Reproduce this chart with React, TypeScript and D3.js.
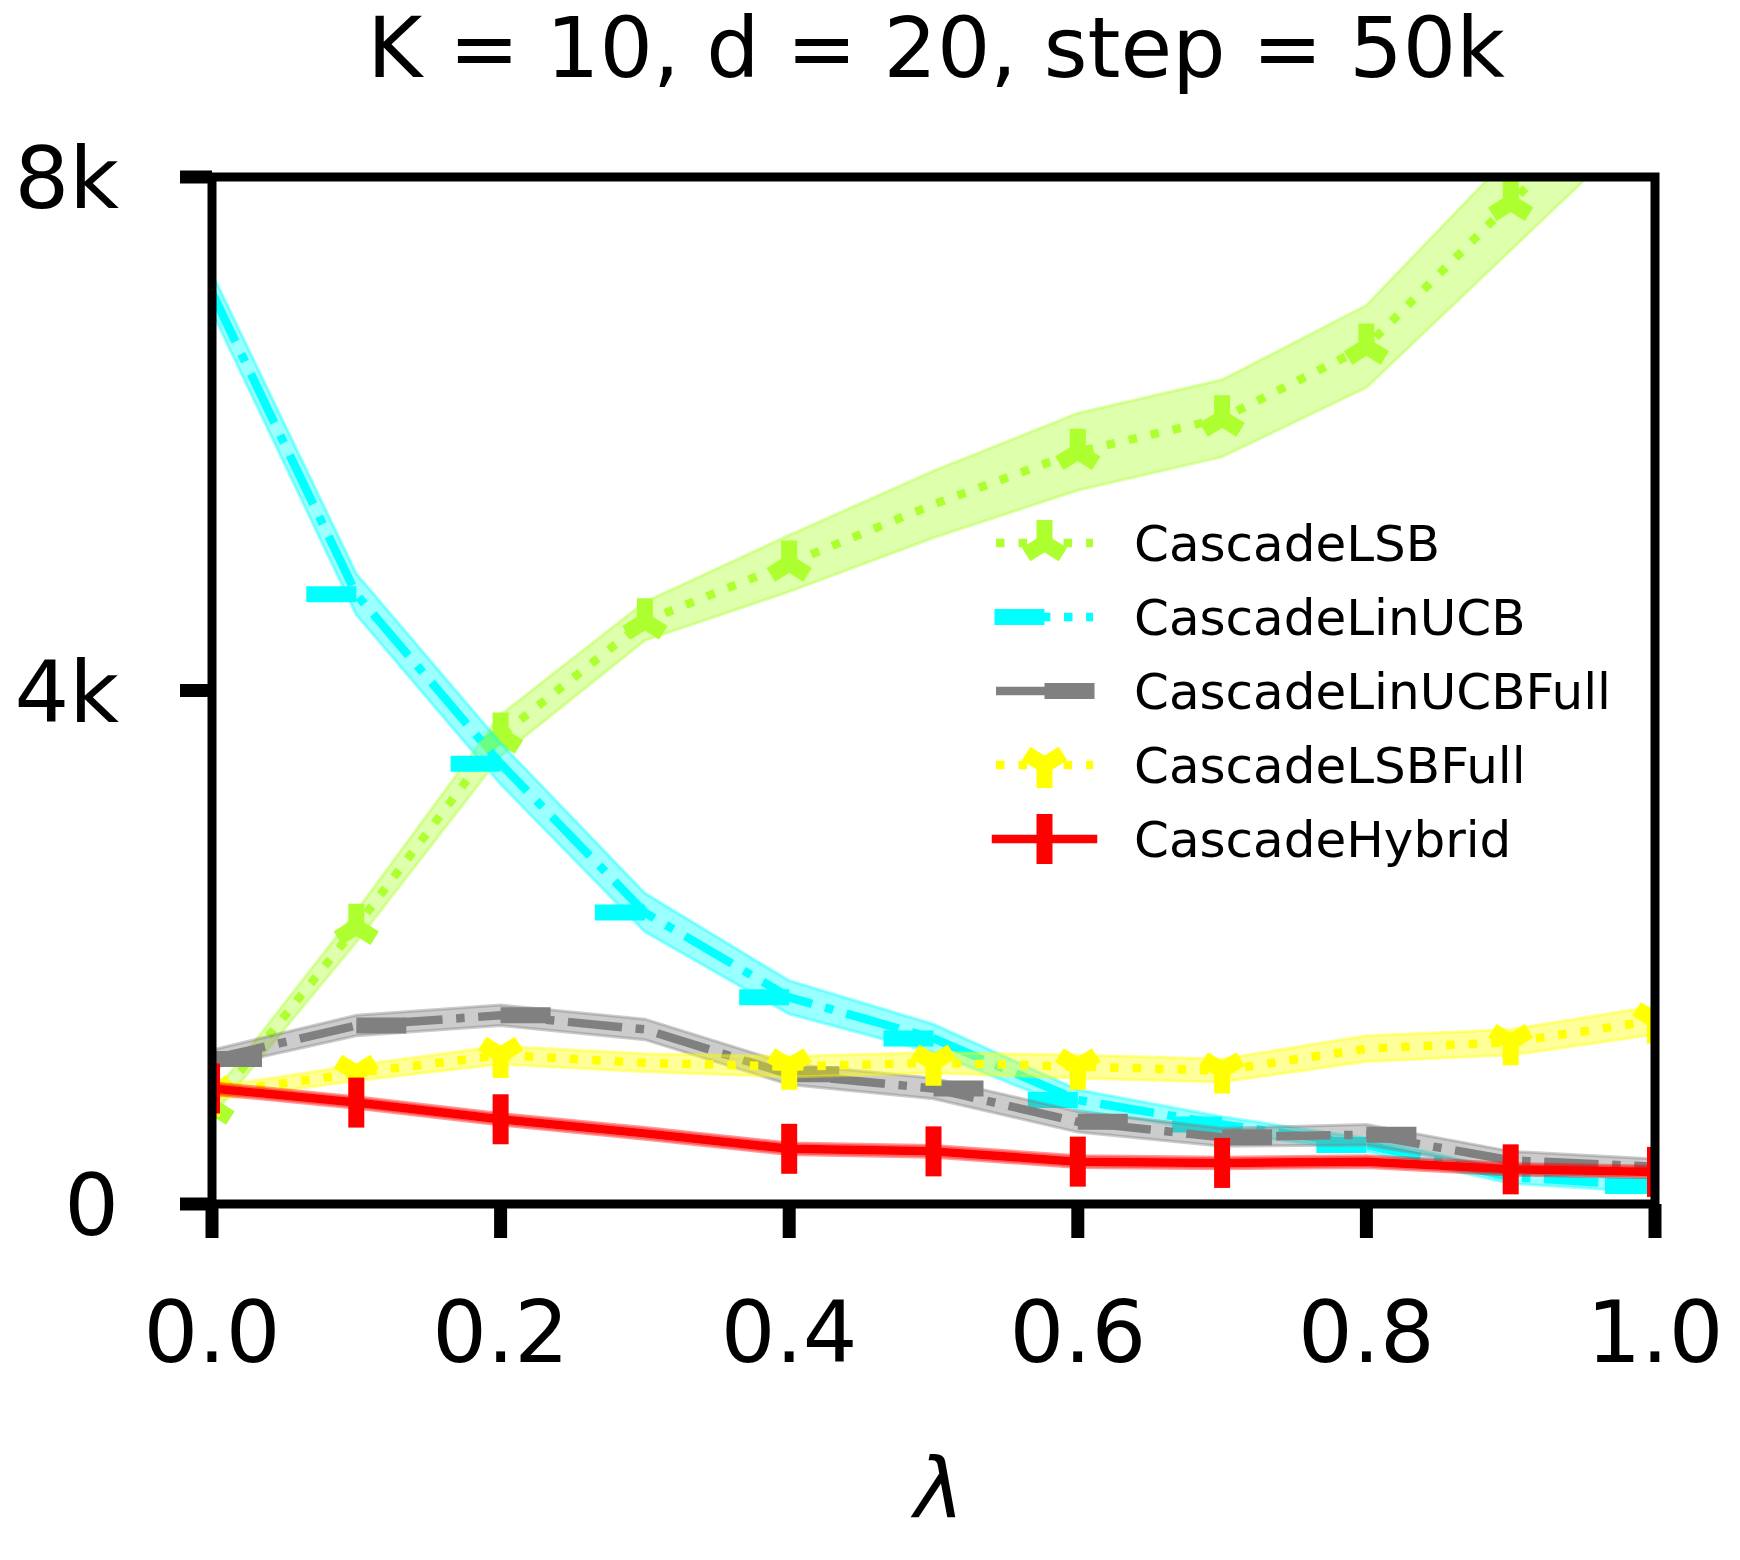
import React from 'react';
import * as d3 from 'd3';

// lambda values on the x axis
const LAMBDAS = [0, 0.1, 0.2, 0.3, 0.4, 0.5, 0.6, 0.7, 0.8, 0.9, 1.0];

// mean and std per algorithm
const LSB_MEAN = [760, 2160, 3650, 4540, 4990, 5450, 5860, 6120, 6680, 7800, 8900];
const LSB_STD = [80, 120, 160, 150, 220, 260, 300, 300, 320, 370, 400];
const LINUCB_MEAN = [7100, 4750, 3430, 2270, 1610, 1290, 810, 620, 460, 210, 140];
const LINUCB_STD = [150, 160, 160, 150, 130, 110, 80, 60, 50, 50, 50];
const LINUCBFULL_MEAN = [1130, 1390, 1470, 1360, 1010, 900, 640, 520, 540, 340, 290];
const LINUCBFULL_STD = [70, 80, 80, 80, 80, 80, 80, 70, 80, 70, 60];
const LSBFULL_MEAN = [860, 1020, 1160, 1100, 1070, 1100, 1070, 1040, 1210, 1260, 1430];
const LSBFULL_STD = [50, 60, 70, 70, 80, 80, 90, 90, 100, 100, 110];
const HYBRID_MEAN = [900, 790, 660, 550, 430, 410, 330, 320, 330, 270, 250];
const HYBRID_STD = [45, 45, 45, 45, 45, 45, 45, 45, 45, 45, 45];

// indices where a marker is drawn
const LSB_MARKS = [0, 1, 2, 3, 4, 6, 7, 8, 9, 10];
const LINUCB_MARKS = [0, 1, 2, 3, 4, 5, 6, 7, 8, 10];
const LINUCBFULL_MARKS = [0, 1, 2, 4, 5, 6, 7, 8];
const LSBFULL_MARKS = [0, 1, 2, 4, 5, 6, 7, 9, 10];
const HYBRID_MARKS = [0, 1, 2, 4, 5, 6, 7, 9, 10];

const NAMES = ['CascadeLSB', 'CascadeLinUCB', 'CascadeLinUCBFull', 'CascadeLSBFull', 'CascadeHybrid'];
const Y_TICKS = [0, 4000, 8000];
const X_TICKS = [0, 0.2, 0.4, 0.6, 0.8, 1.0];

type Marker = 'tri_up' | 'tri_down' | 'tickleft' | 'tickright' | 'vline';

const LW = 8.5;
const DOTTED = `${LW},${LW * 1.65}`;
const DASHDOT = `${LW * 6.4},${LW * 1.6},${LW},${LW * 1.6}`;

const series = [
  { name: NAMES[0], mean: LSB_MEAN, std: LSB_STD, marks: LSB_MARKS, color: '#adff2f', dash: DOTTED, marker: 'tri_up' as Marker },
  { name: NAMES[1], mean: LINUCB_MEAN, std: LINUCB_STD, marks: LINUCB_MARKS, color: '#00ffff', dash: DASHDOT, marker: 'tickleft' as Marker },
  { name: NAMES[2], mean: LINUCBFULL_MEAN, std: LINUCBFULL_STD, marks: LINUCBFULL_MARKS, color: '#808080', dash: DASHDOT, marker: 'tickright' as Marker },
  { name: NAMES[3], mean: LSBFULL_MEAN, std: LSBFULL_STD, marks: LSBFULL_MARKS, color: '#ffff00', dash: DOTTED, marker: 'tri_down' as Marker },
  { name: NAMES[4], mean: HYBRID_MEAN, std: HYBRID_STD, marks: HYBRID_MARKS, color: '#ff0000', dash: undefined, marker: 'vline' as Marker },
];

const W = 1740;
const H = 1560;
const left = 212;
const right = 1655;
const top = 177;
const bottom = 1204;
const FONT = '"DejaVu Sans", sans-serif';

const MarkerShape: React.FC<{ type: Marker; x: number; y: number; color: string }> = ({ type, x, y, color }) => {
  const ms = type === 'tri_up' || type === 'tri_down' ? 46 : 50;
  const h = ms / 2;
  let d = '';
  if (type === 'vline') d = `M${x},${y - h}L${x},${y + h}`;
  if (type === 'tickleft') d = `M${x - ms},${y}L${x},${y}`;
  if (type === 'tickright') d = `M${x},${y}L${x + ms},${y}`;
  if (type === 'tri_up') d = `M${x},${y}L${x},${y - h}M${x},${y}L${x + 0.8 * h},${y + 0.5 * h}M${x},${y}L${x - 0.8 * h},${y + 0.5 * h}`;
  if (type === 'tri_down') d = `M${x},${y}L${x},${y + h}M${x},${y}L${x + 0.8 * h},${y - 0.5 * h}M${x},${y}L${x - 0.8 * h},${y - 0.5 * h}`;
  return <path d={d} stroke={color} strokeWidth={16} fill="none" strokeLinecap="butt" strokeLinejoin="miter" />;
};

export default function App() {
  const x = d3.scaleLinear().domain([0, 1]).range([left, right]);
  const y = d3.scaleLinear().domain([0, 8000]).range([bottom, top]);

  const line = d3
    .line<number>()
    .x((_, i) => x(LAMBDAS[i]))
    .y(d => y(d));

  const area = (mean: number[], std: number[]) =>
    d3
      .area<number>()
      .x((_, i) => x(LAMBDAS[i]))
      .y0((d, i) => y(d - std[i]))
      .y1((d, i) => y(d + std[i]))(mean) || '';

  const fmtY = (v: number) => (v === 0 ? '0' : `${v / 1000}k`);

  const legX0 = 996;
  const legX1 = 1093;
  const legMid = (legX0 + legX1) / 2;
  const legY0 = 543;
  const legStep = 74;

  return (
    <div style={{ position: 'absolute', left: 0, top: 0, background: '#fff' }}>
      <svg width={W} height={H} style={{ display: 'block' }}>
        <rect width={W} height={H} fill="#fff" />
        <defs>
          <clipPath id="plot-clip">
            <rect x={left} y={top} width={right - left} height={bottom - top} />
          </clipPath>
        </defs>

        {/* title */}
        <text x={936} y={77} textAnchor="middle" fontFamily={FONT} fontSize={84} fill="#000">
          K = 10, d = 20, step = 50k
        </text>

        {/* series: band, line, markers */}
        <g clipPath="url(#plot-clip)">
          {series.map(s => (
            <g key={s.name}>
              <path
                d={area(s.mean, s.std)}
                fill={s.color}
                fillOpacity={0.4}
                stroke={s.color}
                strokeOpacity={0.4}
                strokeWidth={3}
              />
              <path
                d={line(s.mean) || ''}
                fill="none"
                stroke={s.color}
                strokeWidth={LW}
                strokeDasharray={s.dash}
                strokeLinejoin="round"
                strokeLinecap={s.dash ? 'butt' : 'square'}
              />
              {s.marks.map(i => (
                <MarkerShape key={i} type={s.marker} x={x(LAMBDAS[i])} y={y(s.mean[i])} color={s.color} />
              ))}
            </g>
          ))}
        </g>

        {/* legend */}
        {series.map((s, i) => {
          const ly = legY0 + i * legStep;
          return (
            <g key={s.name}>
              <line
                x1={legX0}
                x2={legX1}
                y1={ly}
                y2={ly}
                stroke={s.color}
                strokeWidth={LW}
                strokeDasharray={s.dash}
                strokeLinecap={s.dash ? 'butt' : 'square'}
              />
              <MarkerShape type={s.marker} x={legMid} y={ly} color={s.color} />
              <text x={1134} y={ly + 18} fontFamily={FONT} fontSize={50} fill="#000">
                {s.name}
              </text>
            </g>
          );
        })}

        {/* frame */}
        <rect x={left} y={top} width={right - left} height={bottom - top} fill="none" stroke="#000" strokeWidth={9} />

        {/* y ticks */}
        {Y_TICKS.map(t => (
          <g key={t}>
            <line x1={left - 32} x2={left} y1={y(t)} y2={y(t)} stroke="#000" strokeWidth={13} />
            <text x={119} y={y(t) + 31} textAnchor="end" fontFamily={FONT} fontSize={86} fill="#000">
              {fmtY(t)}
            </text>
          </g>
        ))}

        {/* x ticks */}
        {X_TICKS.map(t => (
          <g key={t}>
            <line x1={x(t)} x2={x(t)} y1={bottom} y2={bottom + 34} stroke="#000" strokeWidth={13} />
            <text x={x(t)} y={1362} textAnchor="middle" fontFamily={FONT} fontSize={86} fill="#000">
              {t.toFixed(1)}
            </text>
          </g>
        ))}

        {/* x label */}
        <text x={939} y={1518} textAnchor="middle" fontFamily={FONT} fontStyle="italic" fontSize={84} fill="#000">
          λ
        </text>
      </svg>
    </div>
  );
}
